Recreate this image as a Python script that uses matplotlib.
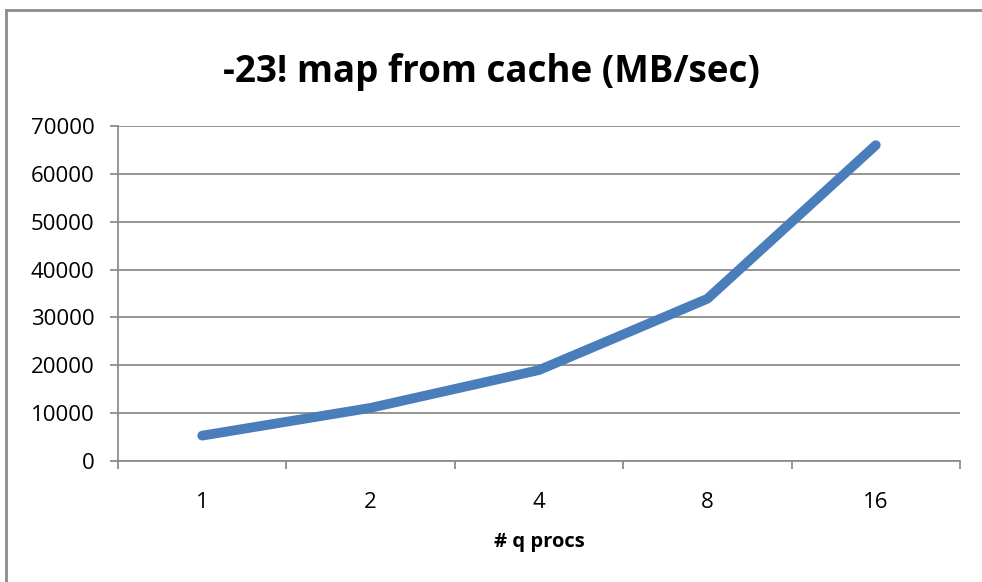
import matplotlib.pyplot as plt
from matplotlib.lines import Line2D

categories = ["1", "2", "4", "8", "16"]
throughput = [5300, 11100, 19000, 33900, 66000]

plt.rcParams['font.family'] = ['Open Sans', 'DejaVu Sans']

fig = plt.figure(figsize=(9.82, 5.82), dpi=100)
ax = fig.add_axes([118 / 982, 1 - 461 / 582, (960 - 118) / 982, (461 - 126) / 582])

x = range(len(categories))
ax.plot(x, throughput, color="#4a7ebb", linewidth=7, solid_capstyle="round", solid_joinstyle="round")

ax.set_xlim(-0.5, len(categories) - 0.5)
ax.set_ylim(0, 70000)
ax.set_yticks(range(0, 70001, 10000))
ax.set_xticks(list(x))
ax.set_xticklabels(categories)
ax.set_xticks([i - 0.5 for i in range(len(categories) + 1)], minor=True)

ax.grid(axis="y", color="#8c8c8c", linewidth=1.3)
ax.set_axisbelow(True)
for side in ["top", "right"]:
    ax.spines[side].set_visible(False)
for side in ["left", "bottom"]:
    ax.spines[side].set_color("#8c8c8c")
    ax.spines[side].set_linewidth(1.3)

ax.tick_params(axis="y", length=6, width=1.3, color="#8c8c8c", labelsize=16, pad=11)
ax.tick_params(axis="x", which="major", length=0, labelsize=16, pad=22)
ax.tick_params(axis="x", which="minor", length=6, width=1.3, color="#8c8c8c")

ax.set_xlabel("# q procs", fontsize=14.5, fontweight="bold", labelpad=14)
fig.text(0.5, 1 - 72 / 582, "-23! map from cache (MB/sec)", ha="center", va="center",
         fontsize=26.5, fontweight="bold")

# chart frame
fig.add_artist(Line2D([6 / 982, 1], [1 - 10 / 582, 1 - 10 / 582], color="#8c8c8c", linewidth=2))
fig.add_artist(Line2D([6 / 982, 6 / 982], [0, 1 - 10 / 582], color="#8c8c8c", linewidth=2))

fig.savefig("out.png", dpi=100)
